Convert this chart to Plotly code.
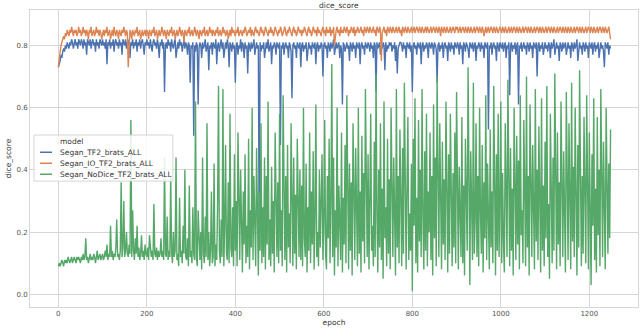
import plotly.graph_objects as go

epoch = list(range(0, 1250, 2))

segan_tf2 = [
    73, 74, 75, 77, 76, 78, 79, 78, 80, 79, 81, 80, 79, 81, 80, 82, 81, 79, 81, 82, 80, 81, 79, 82, 81,
    80, 82, 81, 79, 82, 80, 81, 77, 82, 81, 80, 82, 79, 81, 82, 80, 81, 78, 82, 80, 81, 79, 82, 81, 80,
    82, 80, 81, 79, 82, 74, 81, 80, 82, 79, 81, 80, 82, 78, 81, 82, 80, 81, 79, 82, 80, 81, 77, 82, 81,
    80, 82, 79, 81, 80, 82, 76, 81, 80, 82, 79, 81, 80, 82, 78, 81, 80, 82, 79, 81, 82, 80, 77, 81, 80,
    82, 80, 81, 79, 82, 80, 78, 81, 82, 80, 81, 79, 82, 80, 76, 81, 80, 82, 79, 81, 65, 80, 81, 79, 82,
    80, 81, 78, 82, 80, 79, 81, 82, 76, 80, 81, 79, 82, 80, 81, 78, 80, 82, 79, 81, 80, 77, 81, 80, 68,
    80, 79, 81, 51, 80, 78, 81, 80, 61, 79, 81, 80, 76, 81, 79, 80, 82, 78, 80, 81, 72, 80, 79, 81, 77,
    81, 80, 79, 82, 74, 80, 81, 78, 80, 82, 79, 81, 76, 80, 81, 79, 82, 80, 73, 81, 80, 78, 81, 79, 80,
    68, 80, 81, 77, 80, 79, 82, 78, 81, 80, 76, 81, 79, 80, 71, 81, 80, 78, 81, 79, 80, 82, 77, 80, 81,
    79, 80, 15, 81, 78, 80, 79, 81, 76, 80, 81, 79, 82, 78, 80, 81, 74, 80, 79, 81, 80, 77, 81, 80, 79,
    81, 48, 80, 79, 81, 77, 80, 81, 79, 80, 76, 81, 80, 78, 63, 80, 81, 79, 80, 76, 81, 80, 79, 81, 73,
    80, 81, 78, 80, 79, 81, 75, 80, 81, 79, 80, 77, 81, 80, 79, 81, 74, 80, 81, 78, 80, 79, 81, 80, 70,
    80, 81, 79, 80, 76, 81, 80, 78, 81, 79, 80, 82, 77, 80, 81, 79, 80, 81, 76, 80, 79, 61, 81, 80, 78,
    80, 81, 79, 80, 75, 81, 80, 78, 81, 79, 80, 76, 81, 80, 79, 81, 74, 80, 81, 79, 80, 77, 81, 80, 79,
    81, 80, 78, 81, 79, 80, 76, 81, 80, 65, 81, 79, 80, 81, 77, 80, 79, 81, 80, 72, 81, 78, 80, 79, 81,
    80, 81, 78, 80, 79, 81, 75, 80, 71, 79, 80, 81, 81, 80, 78, 81, 79, 80, 76, 81, 80, 79, 81, 78, 80,
    65, 80, 81, 79, 80, 77, 81, 80, 79, 81, 74, 80, 81, 78, 80, 79, 81, 80, 76, 81, 80, 79, 81, 80, 77,
    81, 80, 79, 68, 80, 81, 78, 80, 79, 81, 76, 80, 81, 79, 80, 75, 81, 80, 78, 81, 79, 80, 77, 81, 80,
    79, 81, 80, 77, 81, 79, 80, 74, 81, 80, 78, 81, 80, 79, 76, 81, 80, 79, 81, 78, 80, 81, 75, 80, 79,
    81, 80, 78, 81, 79, 80, 76, 81, 80, 79, 81, 53, 80, 79, 81, 77, 80, 81, 79, 80, 75, 81, 80, 78, 81,
    80, 79, 81, 78, 80, 81, 76, 80, 79, 81, 64, 80, 81, 78, 80, 79, 81, 77, 80, 81, 61, 80, 79, 81, 78,
    80, 81, 79, 80, 77, 81, 80, 78, 81, 79, 80, 76, 81, 80, 79, 81, 70, 80, 81, 78, 80, 79, 81, 77, 80,
    81, 79, 80, 78, 81, 80, 76, 81, 79, 80, 82, 77, 80, 81, 79, 80, 75, 81, 80, 78, 81, 79, 80, 81, 77,
    80, 81, 79, 80, 76, 81, 80, 78, 81, 79, 80, 82, 75, 80, 81, 79, 80, 77, 81, 80, 78, 81, 79, 80, 76,
    81, 80, 79, 81, 77, 80, 81, 78, 80, 79, 81, 76, 80, 81, 79, 80, 78, 73, 81, 80, 79, 81, 77, 80, 79,
]

segan_io_tf2 = [
    73, 76, 78, 80, 81, 82, 83, 82, 84, 83, 85, 84, 83, 85, 84, 86, 84, 83, 85, 84, 85, 83, 84, 86, 84,
    85, 83, 84, 86, 84, 85, 83, 85, 84, 82, 85, 84, 86, 83, 84, 85, 83, 84, 86, 84, 85, 83, 85, 84, 82,
    84, 85, 83, 85, 84, 86, 83, 84, 85, 82, 84, 85, 83, 86, 84, 83, 85, 84, 82, 85, 84, 83, 85, 84, 86,
    84, 83, 85, 84, 73, 83, 85, 84, 82, 85, 84, 83, 85, 84, 86, 83, 84, 85, 82, 84, 85, 83, 84, 85, 83,
    85, 84, 82, 85, 84, 83, 85, 84, 86, 83, 84, 85, 82, 84, 85, 83, 84, 86, 84, 83, 85, 84, 82, 85, 84,
    83, 85, 84, 86, 83, 84, 85, 82, 84, 85, 83, 84, 86, 84, 83, 85, 84, 81, 85, 84, 83, 85, 84, 86, 83,
    84, 85, 83, 84, 86, 84, 83, 85, 84, 82, 85, 84, 83, 85, 84, 86, 83, 84, 85, 83, 84, 86, 84, 85, 83,
    85, 84, 83, 85, 84, 86, 83, 84, 85, 83, 84, 86, 84, 85, 83, 84, 85, 82, 84, 85, 83, 86, 84, 85, 84,
    83, 85, 84, 86, 83, 84, 85, 84, 83, 85, 84, 86, 85, 83, 84, 85, 84, 86, 83, 85, 84, 83, 85, 86, 84,
    85, 84, 83, 85, 86, 84, 85, 83, 84, 86, 85, 84, 83, 85, 84, 86, 84, 85, 83, 84, 86, 85, 84, 83, 85,
    84, 86, 85, 83, 84, 85, 86, 84, 83, 85, 84, 86, 85, 84, 83, 85, 86, 84, 85, 83, 84, 86, 85, 84, 85,
    83, 85, 84, 86, 85, 84, 83, 85, 86, 84, 85, 83, 84, 86, 85, 84, 85, 83, 86, 84, 85, 84, 83, 85, 86,
    84, 85, 83, 86, 84, 85, 84, 86, 83, 85, 84, 86, 80, 84, 85, 86, 84, 85, 83, 86, 84, 85, 84, 86, 85,
    84, 86, 85, 83, 85, 84, 86, 85, 84, 86, 83, 85, 84, 86, 85, 84, 85, 86, 84, 85, 83, 86, 85, 84, 86,
    85, 84, 86, 85, 84, 85, 86, 84, 85, 83, 86, 85, 84, 86, 85, 75, 84, 85, 86, 84, 85, 83, 86, 85, 84,
    86, 85, 84, 86, 85, 84, 85, 86, 84, 85, 86, 84, 85, 83, 86, 85, 84, 86, 85, 84, 86, 85, 84, 85, 86,
    84, 85, 86, 84, 85, 86, 85, 84, 86, 85, 84, 86, 85, 84, 85, 86, 84, 86, 85, 84, 85, 86, 84, 85, 86,
    85, 84, 86, 85, 84, 86, 85, 83, 86, 85, 84, 86, 85, 84, 86, 85, 84, 85, 86, 84, 85, 86, 85, 84, 86,
    85, 86, 84, 85, 86, 84, 85, 86, 85, 84, 86, 85, 84, 86, 85, 84, 86, 85, 84, 85, 86, 84, 85, 86, 85,
    84, 86, 85, 84, 86, 85, 83, 85, 86, 84, 85, 86, 84, 85, 86, 85, 84, 86, 85, 84, 86, 85, 84, 85, 86,
    85, 84, 86, 85, 84, 86, 85, 84, 85, 86, 84, 85, 86, 84, 85, 86, 85, 84, 86, 85, 84, 86, 85, 84, 85,
    86, 84, 85, 86, 85, 84, 86, 85, 84, 86, 85, 84, 85, 86, 84, 85, 86, 85, 84, 86, 85, 84, 86, 85, 84,
    85, 86, 84, 85, 86, 85, 84, 86, 85, 84, 86, 85, 84, 85, 86, 84, 85, 86, 85, 84, 86, 85, 84, 86, 85,
    84, 86, 85, 84, 86, 85, 84, 85, 86, 84, 85, 86, 85, 84, 86, 85, 84, 86, 85, 84, 85, 86, 84, 85, 86,
    85, 84, 86, 85, 84, 86, 85, 84, 85, 86, 84, 85, 86, 85, 84, 86, 85, 84, 86, 85, 84, 85, 86, 84, 82,
]

segan_nodice_tf2 = [
    9, 10, 9, 10, 11, 10, 9, 11, 10, 11, 10, 12, 11, 10, 11, 12, 10, 11, 12, 11, 10, 12, 11, 12, 11,
    10, 12, 11, 13, 11, 12, 18, 11, 12, 10, 12, 13, 11, 12, 11, 13, 12, 10, 12, 14, 11, 12, 13, 11, 12,
    13, 11, 12, 14, 12, 16, 11, 13, 12, 22, 12, 14, 11, 13, 12, 15, 24, 12, 13, 11, 14, 36, 12, 15, 30,
    12, 14, 20, 13, 12, 16, 13, 56, 12, 27, 14, 11, 18, 13, 22, 12, 15, 11, 13, 19, 12, 14, 11, 16, 13,
    12, 15, 11, 19, 13, 12, 14, 11, 29, 13, 12, 15, 11, 14, 12, 13, 18, 12, 14, 11, 44, 13, 12, 25, 11,
    14, 12, 38, 13, 10, 20, 12, 14, 44, 11, 13, 9, 31, 12, 14, 10, 22, 13, 40, 12, 11, 18, 9, 35, 12,
    14, 10, 28, 13, 11, 62, 12, 9, 27, 15, 11, 20, 8, 44, 13, 10, 25, 12, 55, 11, 20, 9, 14, 33, 10,
    12, 42, 9, 16, 11, 30, 67, 14, 10, 24, 12, 66, 9, 22, 48, 13, 11, 36, 10, 58, 15, 12, 28, 9, 45,
    14, 30, 9, 52, 18, 11, 40, 24, 7, 33, 16, 45, 10, 22, 12, 50, 8, 27, 15, 60, 11, 38, 14, 9, 47,
    20, 6, 33, 14, 55, 10, 28, 12, 44, 8, 38, 16, 62, 11, 24, 9, 41, 13, 30, 7, 52, 18, 12, 36, 10,
    58, 14, 27, 9, 64, 20, 11, 38, 7, 48, 15, 26, 10, 55, 19, 9, 44, 13, 32, 8, 50, 22, 12, 40, 11,
    35, 9, 60, 18, 12, 42, 7, 28, 14, 52, 10, 33, 16, 46, 8, 24, 61, 12, 20, 9, 40, 15, 30, 45, 11,
    22, 56, 13, 8, 38, 18, 50, 10, 29, 74, 12, 44, 6, 27, 15, 60, 9, 35, 20, 11, 52, 7, 31, 16, 48,
    10, 64, 23, 8, 42, 14, 36, 6, 55, 19, 11, 47, 28, 9, 60, 13, 33, 7, 51, 17, 39, 10, 66, 21, 12,
    45, 8, 30, 58, 14, 22, 9, 49, 12, 71, 26, 7, 40, 15, 55, 11, 34, 5, 62, 18, 28, 9, 50, 13, 37,
    8, 60, 20, 12, 44, 30, 6, 66, 15, 38, 10, 53, 24, 9, 47, 13, 68, 19, 8, 35, 57, 11, 26, 14, 42,
    1, 50, 22, 63, 10, 31, 7, 56, 17, 40, 12, 66, 25, 8, 46, 14, 58, 9, 33, 20, 52, 11, 38, 6, 61,
    18, 44, 9, 70, 23, 12, 55, 30, 8, 49, 16, 37, 11, 62, 21, 7, 45, 13, 58, 26, 9, 39, 15, 52, 10,
    65, 19, 8, 41, 28, 12, 57, 10, 35, 6, 50, 22, 14, 73, 17, 3, 46, 31, 11, 68, 13, 24, 55, 12, 38,
    9, 60, 26, 13, 48, 7, 36, 18, 64, 11, 42, 21, 8, 53, 15, 33, 10, 67, 24, 6, 45, 14, 58, 12, 29,
    62, 10, 39, 17, 7, 55, 28, 12, 69, 20, 9, 47, 14, 34, 6, 60, 23, 11, 51, 16, 43, 8, 64, 19, 27,
    10, 56, 24, 9, 70, 15, 38, 6, 61, 20, 12, 48, 30, 8, 66, 17, 40, 11, 54, 22, 7, 63, 14, 35, 9,
    49, 18, 67, 12, 29, 5, 58, 21, 10, 44, 14, 71, 24, 8, 52, 16, 36, 9, 62, 19, 12, 46, 27, 7, 65,
    21, 11, 55, 32, 8, 68, 17, 41, 12, 60, 24, 6, 48, 15, 72, 20, 9, 38, 13, 57, 26, 10, 64, 18, 8,
    52, 14, 3, 45, 22, 63, 11, 34, 7, 57, 19, 40, 9, 66, 25, 12, 49, 16, 8, 60, 20, 13, 42, 18, 53,
]

names = ["Segan_TF2_brats_ALL", "Segan_IO_TF2_brats_ALL", "Segan_NoDice_TF2_brats_ALL"]
values = [segan_tf2, segan_io_tf2, segan_nodice_tf2]
colors = ["#4C72B0", "#DD8452", "#55A868"]

fig = go.Figure()
for name, vals, col in zip(names, values, colors):
    fig.add_trace(go.Scatter(x=epoch, y=[v / 100 for v in vals], mode="lines", name=name,
                             line=dict(color=col, width=1.4)))

# seaborn-like legend box (plotly's own legend rows are too tall here)
shapes = [dict(type="rect", xref="paper", yref="paper", x0=0.0066, x1=0.235,
               y0=0.424, y1=0.579, line=dict(color="#d5d5d5", width=1),
               fillcolor="rgba(255,255,255,0.85)", layer="above")]
annotations = [dict(text="model", xref="paper", yref="paper", x=0.046, y=0.556,
                    xanchor="left", yanchor="middle", showarrow=False,
                    font=dict(size=7.5, color="#333"))]
row_y = [0.521, 0.484, 0.447]
for name, col, ry in zip(names, colors, row_y):
    shapes.append(dict(type="line", xref="paper", yref="paper", x0=0.0164, x1=0.0362,
                       y0=ry, y1=ry, line=dict(color=col, width=1.5), layer="above"))
    annotations.append(dict(text=name, xref="paper", yref="paper", x=0.046, y=ry,
                            xanchor="left", yanchor="middle", showarrow=False,
                            font=dict(size=7.5, color="#333")))

grid = "#d6d6d6"
fig.update_layout(
    width=640, height=333,
    margin=dict(l=30, r=2, t=10, b=26),
    paper_bgcolor="white", plot_bgcolor="white",
    font=dict(family="DejaVu Sans", size=7, color="#555"),
    title=dict(text="dice_score", x=0.508, xref="paper", xanchor="center",
               y=0.985, yanchor="middle", font=dict(size=7.5, color="#333")),
    showlegend=False,
    shapes=shapes, annotations=annotations,
    hovermode=False,
)
fig.update_xaxes(range=[-64, 1310], tickvals=[0, 200, 400, 600, 800, 1000, 1200],
                 showgrid=True, gridcolor=grid, gridwidth=1, zeroline=False,
                 showline=True, linecolor=grid, mirror=True, ticks="",
                 title=dict(text="epoch", standoff=2, font=dict(size=7.5, color="#333")))
fig.update_yaxes(range=[-0.041, 0.914], tickvals=[0.0, 0.2, 0.4, 0.6, 0.8],
                 tickformat=".1f", showgrid=True, gridcolor=grid, gridwidth=1,
                 zeroline=False, showline=True, linecolor=grid, mirror=True, ticks="",
                 title=dict(text="dice_score", standoff=3, font=dict(size=7.5, color="#333")))

fig.write_html("out.html", config={"displayModeBar": False},
               post_script="document.body.style.margin='0';")
